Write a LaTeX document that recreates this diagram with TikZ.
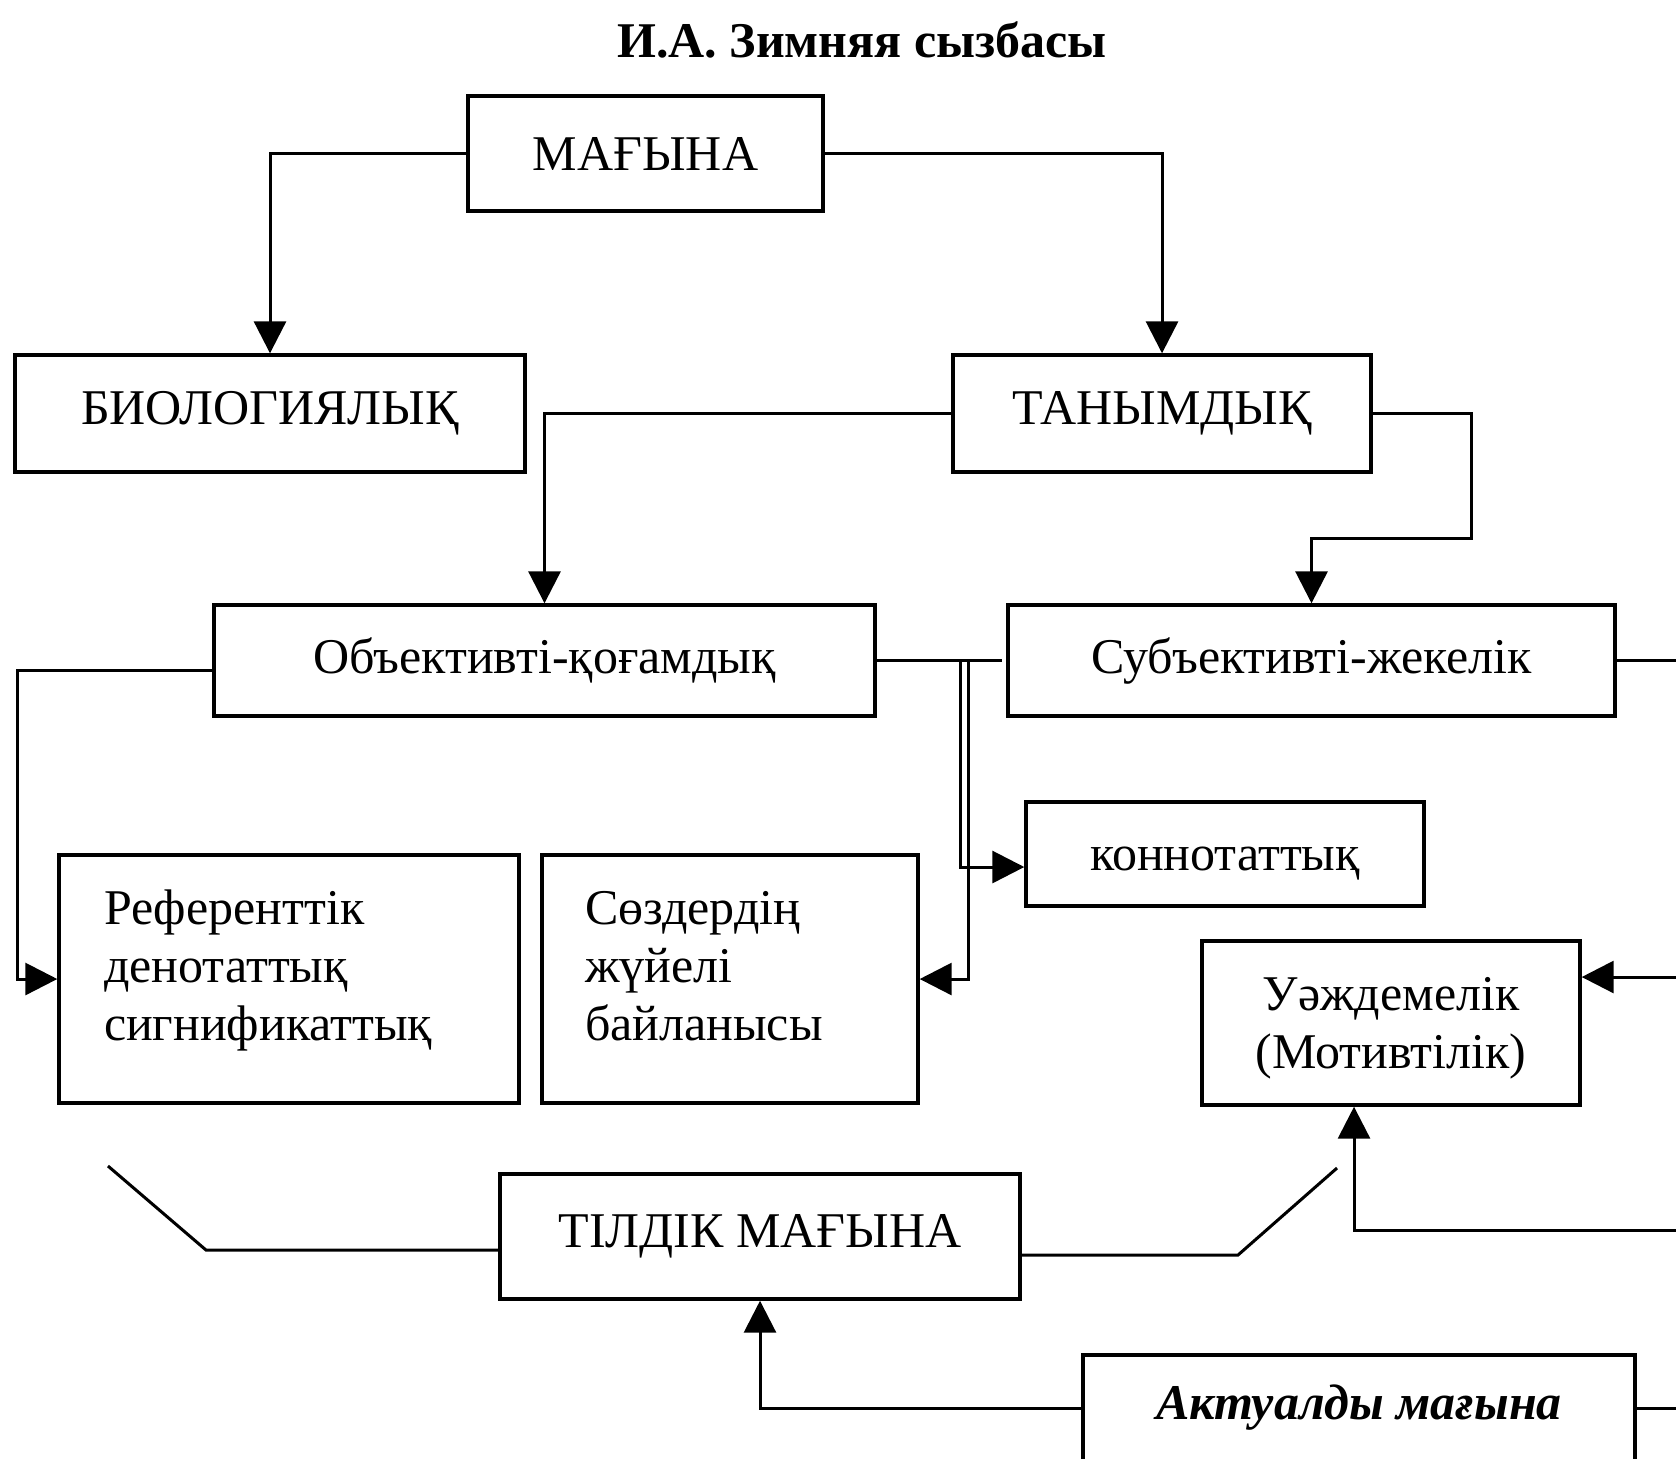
\documentclass[tikz,border=0pt]{standalone}
\usepackage{fontspec}
\setmainfont{Liberation Serif}
\usetikzlibrary{arrows.meta,calc}

\begin{document}
\begin{tikzpicture}[x=.25pt,y=-.25pt,
  box/.style={draw,line width=.85,inner sep=0,
    font=\fontsize{12.5}{14.5}\selectfont},
  link/.style={line width=.75},
  arr/.style={link,-{Triangle[length=8pt,width=8pt]}}]

\useasboundingbox (0,0) rectangle (1676,1458);
\clip (0,0) rectangle (1676,1458);

\node (title) at (862,40)
  {\fontsize{12.5}{14}\selectfont\bfseries И.А. Зимняя сызбасы};

\node[box,minimum width=88.75pt,minimum height=28.75pt]
  (magyna) at (645.5,153.5) {МАҒЫНА};
\node[box,minimum width=127.5pt,minimum height=29.25pt]
  (bio) at (270,413.5) {БИОЛОГИЯЛЫҚ};
\node[box,minimum width=104.5pt,minimum height=29.25pt]
  (tanym) at (1162,413.5) {ТАНЫМДЫҚ};

\node[box,minimum width=165.25pt,minimum height=27.75pt]
  (obj) at (544.5,660.5) {Объективті-қоғамдық};
\node[box,minimum width=151.75pt,minimum height=27.75pt]
  (subj) at (1311.5,660.5) {Субъективті-жекелік};

\node[box,minimum width=99.5pt,minimum height=26pt]
  (konn) at (1225,854) {\raisebox{-2.4pt}[\height][\depth]{коннотаттық}};
\node[box,minimum width=115pt,minimum height=62pt,
  text width=92.5pt,align=left]
  (ref) at (289,979)
  {Референттік\\денотаттық\\сигнификаттық\rule[-7pt]{0pt}{0pt}};
\node[box,minimum width=94pt,minimum height=62pt,
  text width=72.5pt,align=left]
  (sozd) at (730,979)
  {Сөздердің\\жүйелі\\байланысы\rule[-6.6pt]{0pt}{0pt}};
\node[box,minimum width=94.5pt,minimum height=41pt,align=center]
  (uazh) at (1391,1023) {\rule{0pt}{11pt}Уәждемелік\\(Мотивтілік)};

\node[box,minimum width=130pt,minimum height=31.25pt]
  (tildik) at (760,1236.5) {ТІЛДІК МАҒЫНА};
\node[box,minimum width=138pt,minimum height=26.5pt,
  font=\fontsize{12.5}{14.5}\selectfont\bfseries\itshape]
  (aktual) at (1359,1408) {Актуалды мағына};

\draw[arr]
  (magyna.west) -| (bio.north);
\draw[arr]
  (magyna.east) -| (tanym.north);

\draw[arr]
  (tanym.west) -| (obj.north);
\coordinate (tbend) at (1471,538);
\draw[arr]
  (tanym.east) -| (tbend) -| (subj.north);

\coordinate (subjout) at (1700,660.5);
\draw[link]
  (subj.east) -- (subjout);
\draw[link]
  (obj.east) -- ([xshift=-1pt]subj.west);

\coordinate (dblL) at (960,660.5);
\coordinate (dblR) at (968,660.5);
\draw[arr]
  (dblL) |- ($(konn.west)+(0,13)$);
\draw[arr]
  (dblR) |- (sozd.east);

\coordinate (lrail) at (17,670);
\draw[arr]
  (lrail -| obj.west) -- (lrail) |- (ref.west);

\coordinate (uin) at (1700,977);
\draw[arr]
  (uin) -- (uin -| uazh.east);
\coordinate (uout) at (1700,1230);
\coordinate (ubend) at (1354,1230);
\draw[arr]
  (uout) -- (ubend) -- (ubend |- uazh.south);

\coordinate (lkink) at (206,1250);
\coordinate (ltip) at (108,1166);
\draw[link]
  (lkink -| tildik.west) -- (lkink) -- (ltip);
\coordinate (rkink) at (1238,1255);
\coordinate (rtip) at (1337,1168);
\draw[link]
  (rkink -| tildik.east) -- (rkink) -- (rtip);

\coordinate (aout) at (1700,1408);
\draw[link]
  (aktual.east) -- (aout);
\draw[arr]
  (aktual.west) -| (tildik.south);

\end{tikzpicture}
\end{document}
